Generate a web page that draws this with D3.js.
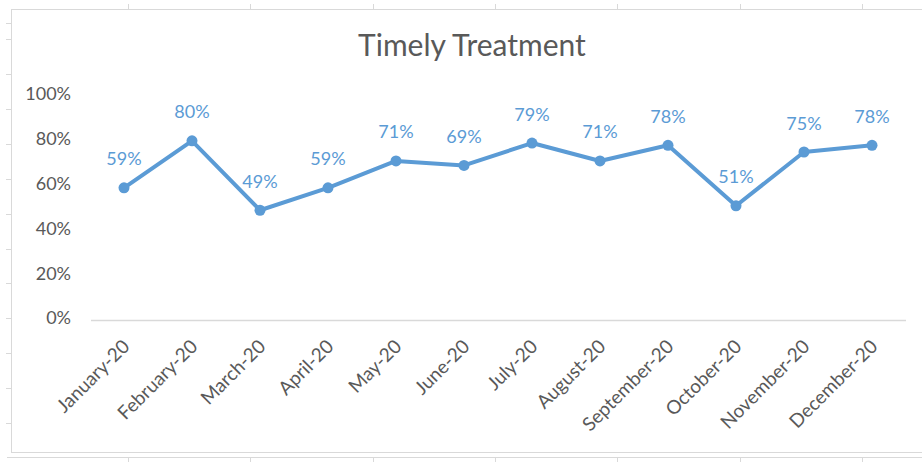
<!DOCTYPE html>
<html><head><meta charset="utf-8">
<script src="https://cdn.jsdelivr.net/npm/d3@7"></script>
<style>
body{margin:0;background:#fff;overflow:hidden}
text{font-family:Lato,"Open Sans",sans-serif}
</style>
</head><body>
<svg id="c" width="922" height="462"></svg>
<script>
// ---- data ----
const months = ["January-20","February-20","March-20","April-20","May-20","June-20",
                "July-20","August-20","September-20","October-20","November-20","December-20"];
const values = [0.59,0.80,0.49,0.59,0.71,0.69,0.79,0.71,0.78,0.51,0.75,0.78];
const yTicks = [0,0.2,0.4,0.6,0.8,1.0];
const title = "Timely Treatment";

// ---- layout ----
const W = 922, H = 462;
const svg = d3.select("#c");
const grey = "#d9d9d9", txt = "#595959", blue = "#5b9bd5";

// spreadsheet grid peeking around the chart
const g0 = svg.append("g").attr("stroke", grey).attr("stroke-width", 1);
const rowYs = [23].concat(d3.range(12).map(i => 39 + i * 34.92));
rowYs.forEach(y => g0.append("line").attr("x1", 6).attr("x2", 11).attr("y1", Math.round(y)+0.5).attr("y2", Math.round(y)+0.5));
const colXs = d3.range(7).map(i => 128 + i * 122.35);
colXs.forEach(x => {
  g0.append("line").attr("x1", Math.round(x)+0.5).attr("x2", Math.round(x)+0.5).attr("y1", 4).attr("y2", 9);
  g0.append("line").attr("x1", Math.round(x)+0.5).attr("x2", Math.round(x)+0.5).attr("y1", 457).attr("y2", 462);
});
g0.append("line").attr("x1", 7).attr("x2", W).attr("y1", 457.5).attr("y2", 457.5);

// chart area border
svg.append("rect").attr("x", 11.5).attr("y", 9.5).attr("width", W + 20).attr("height", 443)
  .attr("fill", "#fff").attr("stroke", grey);

// scales
const x = d3.scaleBand().domain(months).range([90, 906]).paddingInner(0).paddingOuter(0);
const cx = d => x(d) + x.bandwidth() / 2;
const y = d3.scaleLinear().domain([0, 1]).range([320, 96]);

// title
svg.append("text").attr("x", 472).attr("y", 56).attr("text-anchor", "middle")
  .attr("fill", txt).style("font-size", "30px").text(title);

// y axis (labels only)
const yAxis = d3.axisLeft(y).tickValues(yTicks).tickFormat(d3.format(".0%")).tickSize(0).tickPadding(0);
const ya = svg.append("g").attr("transform", "translate(71,0)").call(yAxis);
ya.select(".domain").remove();
ya.selectAll("text").attr("fill", txt).style("font-size", "18px").attr("dy", "0.3em")
  .attr("transform", "translate(0,-1.5)");

// x axis baseline
svg.append("line").attr("x1", 91).attr("x2", 906).attr("y1", y(0) + 0.5).attr("y2", y(0) + 0.5)
  .attr("stroke", grey).attr("stroke-width", 1.3);

// x labels rotated
const xa = svg.append("g");
xa.selectAll("text").data(months).join("text")
  .attr("transform", d => `translate(${cx(d) + 2},${343}) rotate(-45)`)
  .attr("text-anchor", "end").attr("dy", "0.35em")
  .attr("fill", txt).style("font-size", "19px").text(d => d);

// line
const pts = months.map((m, i) => ({m, v: values[i]}));
svg.append("path").datum(pts)
  .attr("d", d3.line().x(d => cx(d.m)).y(d => y(d.v)))
  .attr("fill", "none").attr("stroke", blue).attr("stroke-width", 4).attr("stroke-linejoin", "round");
svg.selectAll("circle.pt").data(pts).join("circle").attr("class", "pt")
  .attr("cx", d => cx(d.m)).attr("cy", d => y(d.v)).attr("r", 5.5).attr("fill", blue);

// data labels
svg.selectAll("text.lbl").data(pts).join("text").attr("class", "lbl")
  .attr("x", d => cx(d.m)).attr("y", d => y(d.v) - 22.5).attr("text-anchor", "middle")
  .attr("fill", blue).style("font-size", "18px").text(d => d3.format(".0%")(d.v));
</script>
</body></html>
